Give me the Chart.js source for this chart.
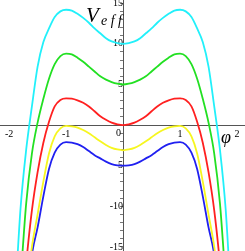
<!DOCTYPE html>
<html>
<head>
<meta charset="utf-8">
<script src="https://cdn.jsdelivr.net/npm/chart.js@4"></script>
<style>
  html, body { margin: 0; padding: 0; background: #fff; }
  #wrap { width: 245px; height: 251px; }
</style>
</head>
<body>
<div id="wrap"><canvas id="veff"></canvas></div>
<script>
// phi values (x)
const phi = [-1.9,-1.8,-1.7,-1.6,-1.5,-1.4,-1.3,-1.2,-1.1,-1.0,-0.9,-0.8,-0.7,-0.6,-0.5,-0.4,-0.3,-0.2,-0.1,0,
             0.1,0.2,0.3,0.4,0.5,0.6,0.7,0.8,0.9,1.0,1.1,1.2,1.3,1.4,1.5,1.6,1.7,1.8,1.9];

// top curve to bottom curve
const cyanV = [-22,-10.3,-3.0,2.3,7.2,10.2,11.9,13.3,14.0,14.2,14.1,13.7,13.2,12.6,11.9,11.3,10.7,10.3,10.1,10.0,
               10.1,10.3,10.7,11.3,11.9,12.6,13.2,13.7,14.1,14.2,14.0,13.3,11.9,10.2,7.2,2.3,-3.0,-10.3,-22];
const greenV = [-27,-19,-9.6,-3.5,0.3,3.2,5.7,7.5,8.5,8.8,8.7,8.3,7.8,7.2,6.6,6.0,5.6,5.3,5.1,5.0,
                5.1,5.3,5.6,6.0,6.6,7.2,7.8,8.3,8.7,8.8,8.5,7.5,5.7,3.2,0.3,-3.5,-9.6,-19,-27];
const redV = [-36,-25,-17,-10.5,-5.8,-2.2,0.4,2.3,3.1,3.3,3.25,3.05,2.75,2.3,1.7,1.1,0.65,0.3,0.1,0,
              0.1,0.3,0.65,1.1,1.7,2.3,2.75,3.05,3.25,3.3,3.1,2.3,0.4,-2.2,-5.8,-10.5,-17,-25,-36];
const yellowV = [-40,-29,-21,-15,-11,-7.0,-3.5,-1.4,-0.4,-0.1,-0.15,-0.3,-0.6,-1.0,-1.5,-2.0,-2.45,-2.8,-3.0,-3.1,
                 -3.0,-2.8,-2.45,-2.0,-1.5,-1.0,-0.6,-0.3,-0.15,-0.1,-0.4,-1.4,-3.5,-7.0,-11,-15,-21,-29,-40];
const blueV = [-42,-31,-23,-16,-12.6,-8.8,-5.4,-3.4,-2.4,-2.1,-2.15,-2.35,-2.7,-3.2,-3.7,-4.1,-4.5,-4.8,-4.95,-5.0,
               -4.95,-4.8,-4.5,-4.1,-3.7,-3.2,-2.7,-2.35,-2.15,-2.1,-2.4,-3.4,-5.4,-8.8,-12.6,-16,-23,-31,-42];

const xTicks = [-2,-1,1,2];
const yTicks = [];
for (let v = -15; v <= 15; v++) yTicks.push(v);
const yLabels = [15,10,5,-5,-10,-15];

function pts(vals){
    return vals.map((v,i) => ({x: phi[i], y: v}));
}

function line(vals, color){
    return {
        data: pts(vals),
        borderColor: color,
        borderWidth: 1.8,
        pointRadius: 0,
        fill: false,
        cubicInterpolationMode: 'monotone'
    };
}

// axis titles and the "0" at the origin
const axisText = {
    id: 'axisText',
    afterDraw(chart){
        const ctx = chart.ctx;
        const xs = chart.scales.x, ys = chart.scales.y;
        ctx.save();
        ctx.fillStyle = '#000';
        ctx.textBaseline = 'alphabetic';
        ctx.font = 'italic 21px "Liberation Serif"';
        ctx.fillText('V', 86, 22);
        ctx.font = 'italic 14px "Liberation Serif"';
        ctx.fillText('e f f', 101, 25);
        ctx.font = 'italic 18px "Liberation Serif"';
        ctx.fillText('φ', 221, 143);
        ctx.font = '10px "Liberation Serif"';
        ctx.textAlign = 'right';
        ctx.textBaseline = 'top';
        ctx.fillText('0', xs.getPixelForValue(0) - 2, ys.getPixelForValue(0) + 3);
        ctx.restore();
    }
};

// no extra room for the tick labels at the ends
function noPad(s){
    s.paddingTop = 0; s.paddingBottom = 0;
    s.paddingLeft = 0; s.paddingRight = 0;
}

const ctx = document.getElementById('veff').getContext('2d');
new Chart(ctx, {
    type: 'line',
    data: {
        datasets: [
            line(cyanV, '#22f0fa'),
            line(greenV, '#22e022'),
            line(redV, '#ff2020'),
            line(yellowV, '#f6f620'),
            line(blueV, '#2020f0')
        ]
    },
    options: {
        responsive: true,
        maintainAspectRatio: false,
        animation: false,
        layout: { padding: 0 },
        plugins: { legend: { display: false }, tooltip: { enabled: false } },
        scales: {
            x: {
                type: 'linear',
                min: -2.16, max: 2.14,
                position: { y: 0 },
                afterBuildTicks: s => { s.ticks = xTicks.map(v => ({value: v})); },
                afterFit: noPad,
                grid: { drawOnChartArea: false, drawTicks: false },
                border: { color: '#555', width: 1 },
                ticks: {
                    color: '#000', padding: 3,
                    font: { family: 'Liberation Serif', size: 10 },
                    maxRotation: 0
                }
            },
            y: {
                type: 'linear',
                min: -15.5, max: 15.4,
                position: { x: 0 },
                afterBuildTicks: s => { s.ticks = yTicks.map(v => ({value: v})); },
                afterFit: noPad,
                grid: { drawOnChartArea: false, tickLength: 3, color: '#777' },
                border: { color: '#555', width: 1 },
                ticks: {
                    color: '#000', padding: 1,
                    autoSkip: false,
                    font: { family: 'Liberation Serif', size: 10 },
                    callback: v => yLabels.includes(v) ? String(v) : ''
                }
            }
        }
    },
    plugins: [axisText]
});
</script>
</body>
</html>
